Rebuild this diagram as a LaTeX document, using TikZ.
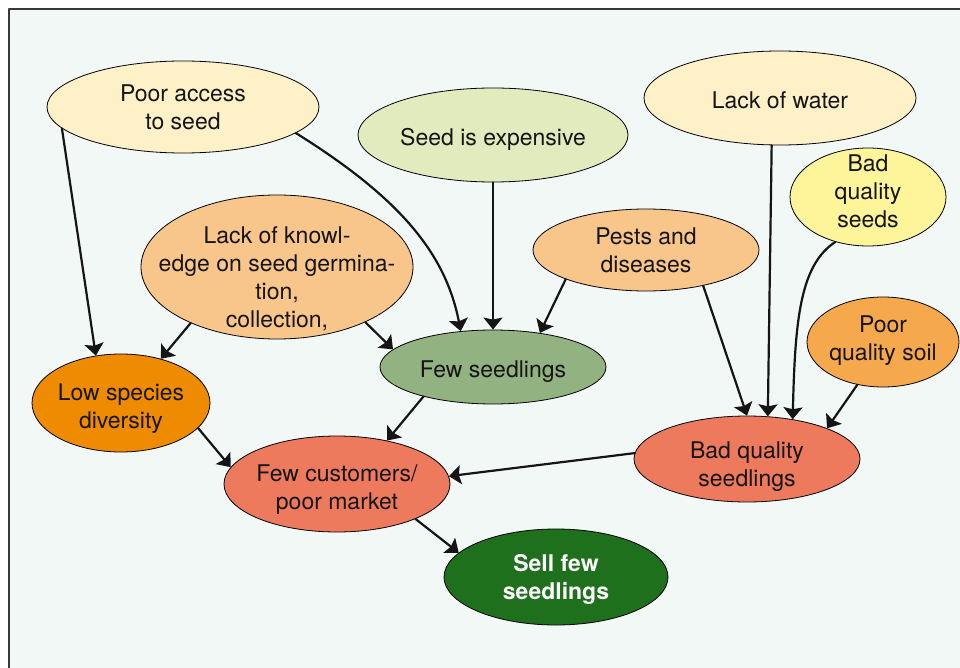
\documentclass[tikz,border=0pt]{standalone}
\usepackage{fontspec}
\setmainfont{TeX Gyre Heros}
\usepackage{pgf,tikz}
\usetikzlibrary{shapes.geometric}
\usetikzlibrary{arrows.meta}
\definecolor{cream}{HTML}{FEF0C7}
\definecolor{paleleaf}{HTML}{E2EBBE}
\definecolor{lemon}{HTML}{FEF49A}
\definecolor{peach}{HTML}{F8C58A}
\definecolor{apricot}{HTML}{F6A94C}
\definecolor{sage}{HTML}{93B281}
\definecolor{pumpkin}{HTML}{EF8B00}
\definecolor{salmon}{HTML}{EE7A5E}
\definecolor{forest}{HTML}{1F701C}
\definecolor{mint}{HTML}{F2F8F5}
\definecolor{ink}{HTML}{151515}
\tikzset{
  blob/.style={ellipse,draw=black,line width=0.8pt,inner sep=0pt},
  tag/.style={inner sep=0pt,align=center,text=ink,font=\fontsize{23}{28}\selectfont,
    execute at begin node={\rule{0pt}{28pt}},
    execute at end node={\rule[-6pt]{0pt}{6pt}}},
  cause/.style={->,line width=2.2pt,draw=ink}
}
\begin{document}
\begin{tikzpicture}[line cap=round,line join=round,>={Stealth[length=12pt,width=19pt,inset=2pt]},x=1pt,y=-1pt]
\useasboundingbox (0,0) rectangle (960,668);
\fill[mint] (9,9) rectangle (960,668);
\draw [line width=2pt,color=ink!85] (9,668)-- (9,9)-- (960,9);
% causes on top
\node[blob,fill=cream,minimum width=272pt,minimum height=92pt] (access) at (183,107) {};
\node[tag] (accesstag) at (183,110) {Poor access\\to seed};
\node[blob,fill=paleleaf,minimum width=270pt,minimum height=94pt] (expensive) at (493,135) {};
\node[tag] (expensivetag) at (493,135) {Seed is expensive};
\node[blob,fill=cream,minimum width=272pt,minimum height=94pt] (water) at (780,98) {};
\node[tag] (watertag) at (780,98) {Lack of water};
\node[blob,fill=lemon,minimum width=156pt,minimum height=98pt] (badseeds) at (868,197) {};
\node[tag] (badseedstag) at (868,194) {Bad\\quality\\seeds};
\node[blob,fill=peach,minimum width=272pt,minimum height=144pt] (knowl) at (277,267) {};
\node[tag] (knowltag) at (277,280) {Lack of knowl-\\edge on seed germina-\\tion,\\collection,};
\node[blob,fill=peach,minimum width=226pt,minimum height=82pt] (pests) at (646,250) {};
\node[tag] (peststag) at (646,253) {Pests and\\diseases};
\node[blob,fill=apricot,minimum width=152pt,minimum height=90pt] (soil) at (883,342) {};
\node[tag] (soiltag) at (883,341) {Poor\\quality soil};
% effects
\node[blob,fill=sage,minimum width=226pt,minimum height=74pt] (fewseed) at (493,367) {};
\node[tag] (fewseedtag) at (493,366) {Few seedlings};
\node[blob,fill=pumpkin,minimum width=178pt,minimum height=98pt] (lowdiv) at (121,403) {};
\node[tag] (lowdivtag) at (121,409) {Low species\\diversity};
\node[blob,fill=salmon,minimum width=226pt,minimum height=96pt] (market) at (337,484) {};
\node[tag] (markettag) at (337,490) {Few customers/\\poor market};
\node[blob,fill=salmon,minimum width=226pt,minimum height=86pt] (badseedl) at (747,459) {};
\node[tag] (badseedltag) at (747,467) {Bad quality\\seedlings};
\node[blob,fill=forest,minimum width=224pt,minimum height=96pt] (sell) at (556,577) {};
\node[tag,text=white,font=\fontsize{23}{28}\selectfont\bfseries] (selltag) at (556,580) {Sell few\\seedlings};
% arrows
\draw [cause] (access.190)-- (lowdiv.118);
\draw [cause] (access.-13) .. controls (395,195) and (445,250) .. (fewseed.132);
\draw [cause] (expensive.south)-- (fewseed.north);
\draw [cause] (pests.200)-- (fewseed.36);
\draw [cause] (knowl.213)-- (lowdiv.48);
\draw [cause] (knowl.-32)-- (fewseed.170);
\draw [cause] (fewseed.203)-- (market.41);
\draw [cause] (lowdiv.-18)-- (market.171);
\draw [cause] (badseedl.177)-- (market.4);
\draw [cause] (market.-24)-- (sell.166);
\draw [cause] (pests.-32)-- (badseedl.90);
\draw [cause] (water.260)-- (badseedl.64);
\draw [cause] (badseeds.234) .. controls (800,265) and (795,320) .. (badseedl.41);
\draw [cause] (soil.239)-- (badseedl.21);
\end{tikzpicture}
\end{document}
